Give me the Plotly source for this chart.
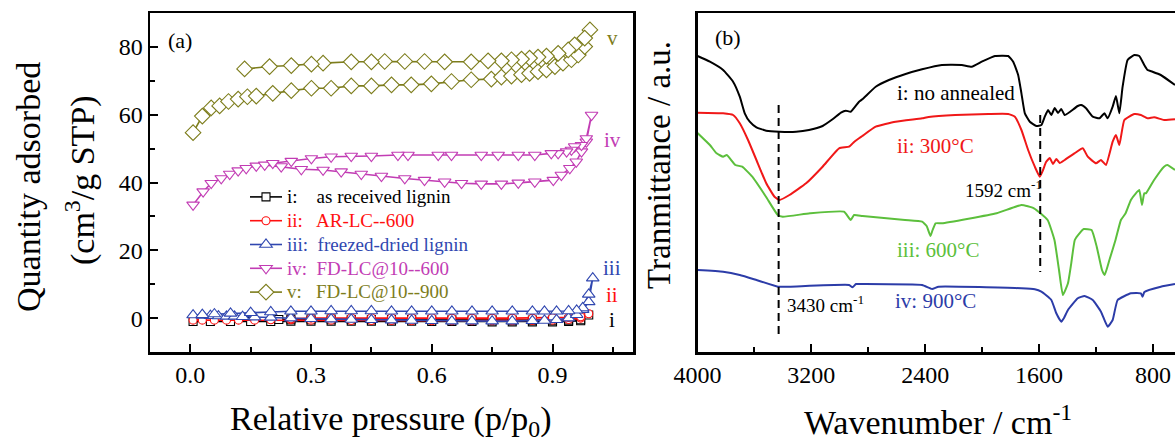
import plotly.graph_objects as go

W, H = 1175, 442
FONT = "Liberation Serif, Times New Roman, serif"

# ---------------- Panel (a): N2 isotherms ----------------
i_ads_x = [0.007, 0.05, 0.10, 0.15, 0.20, 0.25, 0.30, 0.35, 0.40, 0.45, 0.50, 0.55, 0.60, 0.65, 0.70, 0.75, 0.80, 0.85, 0.90, 0.94, 0.97, 0.99]
i_ads_y = [-1.0, -1.0, -1.0, -1.0, -1.0, -0.9, -0.9, -0.9, -0.9, -0.9, -0.9, -0.9, -1.0, -1.0, -1.0, -1.1, -1.1, -1.1, -1.1, -1.0, -0.8, 0.9]
i_des_x = [0.97, 0.94, 0.90, 0.85, 0.80, 0.75, 0.70, 0.65, 0.60, 0.55, 0.50, 0.45, 0.40, 0.35, 0.30, 0.25, 0.22]
i_des_y = [-0.5, -0.6, -0.6, -0.6, -0.6, -0.5, -0.5, -0.5, -0.5, -0.4, -0.4, -0.4, -0.4, -0.3, -0.3, -0.3, -0.4]

ii_ads_x = [0.007, 0.03, 0.06, 0.09, 0.12, 0.16, 0.20, 0.25, 0.30, 0.35, 0.40, 0.45, 0.50, 0.55, 0.60, 0.65, 0.70, 0.75, 0.80, 0.85, 0.90, 0.94, 0.97, 0.99]
ii_ads_y = [-0.6, -0.6, -0.6, -0.6, -0.6, -0.6, -0.5, -0.5, -0.6, -0.6, -0.7, -0.7, -0.7, -0.8, -0.8, -0.8, -0.8, -0.8, -0.8, -0.7, -0.6, -0.4, 0.0, 1.3]
ii_des_x = [0.97, 0.94, 0.90, 0.85, 0.80, 0.75, 0.70, 0.65, 0.60, 0.55, 0.50, 0.45, 0.40, 0.35, 0.30, 0.25]
ii_des_y = [0.4, 0.2, 0.1, 0.0, 0.0, 0.0, 0.0, 0.0, 0.1, 0.1, 0.1, 0.1, 0.1, 0.1, 0.0, -0.2]

iii_ads_x = [0.007, 0.03, 0.05, 0.07, 0.09, 0.11, 0.13, 0.16, 0.20, 0.25, 0.30, 0.35, 0.40, 0.45, 0.50, 0.55, 0.60, 0.65, 0.70, 0.75, 0.80, 0.85, 0.88, 0.91, 0.94, 0.96, 0.975, 0.99, 1.0]
iii_ads_y = [0.9, 0.8, 0.7, 0.6, 0.5, 0.5, 0.4, 0.3, 0.2, 0.0, -0.2, -0.3, -0.4, -0.5, -0.6, -0.7, -0.8, -0.9, -0.9, -0.9, -0.9, -0.8, -0.7, -0.5, 0.0, 1.0, 2.5, 4.8, 11.8]
iii_des_x = [0.99, 0.975, 0.96, 0.94, 0.91, 0.88, 0.85, 0.80, 0.75, 0.70, 0.65, 0.60, 0.55, 0.50, 0.45, 0.40, 0.35, 0.30, 0.25, 0.20, 0.15, 0.10, 0.06, 0.03]
iii_des_y = [7.0, 3.0, 2.3, 2.1, 2.0, 2.0, 2.0, 2.0, 2.0, 2.0, 2.0, 2.0, 2.0, 2.0, 2.1, 2.1, 2.1, 2.0, 2.0, 1.8, 1.6, 1.4, 1.2, 1.0]

iv_ads_x = [0.007, 0.032, 0.052, 0.077, 0.098, 0.119, 0.139, 0.164, 0.185, 0.226, 0.276, 0.330, 0.375, 0.425, 0.475, 0.533, 0.582, 0.632, 0.674, 0.723, 0.773, 0.815, 0.856, 0.902, 0.922, 0.943, 0.959, 0.972, 0.984, 0.997]
iv_ads_y = [33.4, 37.3, 39.8, 41.2, 42.5, 43.5, 44.2, 44.9, 45.2, 44.7, 43.9, 43.7, 43.2, 42.5, 41.9, 41.2, 40.7, 40.2, 39.8, 39.6, 39.6, 39.9, 40.2, 40.7, 42.2, 44.2, 46.1, 49.1, 52.0, 59.9]
iv_des_x = [0.984, 0.972, 0.955, 0.947, 0.935, 0.914, 0.897, 0.856, 0.815, 0.765, 0.723, 0.649, 0.616, 0.541, 0.516, 0.450, 0.400, 0.350, 0.301, 0.251, 0.205]
iv_des_y = [53.0, 51.0, 50.6, 49.6, 49.1, 48.6, 48.6, 48.1, 48.1, 48.1, 48.1, 48.1, 48.1, 48.1, 48.1, 47.8, 47.8, 47.6, 47.1, 46.3, 45.7]

v_ads_x = [0.007, 0.030, 0.052, 0.073, 0.095, 0.119, 0.142, 0.164, 0.205, 0.251, 0.301, 0.350, 0.400, 0.450, 0.500, 0.549, 0.599, 0.649, 0.698, 0.748, 0.773, 0.798, 0.823, 0.843, 0.864, 0.885, 0.906, 0.926, 0.947, 0.964, 0.980, 0.993]
v_ads_y = [54.7, 59.6, 62.0, 62.6, 63.9, 64.6, 65.3, 65.5, 66.3, 67.1, 67.8, 67.8, 68.5, 68.5, 68.8, 68.8, 69.1, 69.8, 70.3, 70.5, 71.1, 71.4, 71.8, 72.2, 72.7, 73.2, 74.2, 75.2, 76.2, 77.6, 80.1, 85.0]
v_des_x = [0.980, 0.955, 0.939, 0.914, 0.885, 0.864, 0.843, 0.823, 0.798, 0.773, 0.740, 0.698, 0.632, 0.582, 0.533, 0.483, 0.450, 0.400, 0.330, 0.301, 0.251, 0.197, 0.135]
v_des_y = [82.6, 80.6, 79.1, 78.1, 77.3, 77.0, 76.7, 76.4, 76.2, 75.9, 75.9, 75.6, 75.6, 75.7, 75.7, 75.7, 75.6, 75.6, 75.2, 74.9, 74.5, 74.2, 73.5]

a_names = ["i:    as received lignin", "ii:   AR-LC--600", "iii:  freezed-dried lignin",
           "iv:  FD-LC@10--600", "v:   FD-LC@10--900"]
a_tags = ["i", "ii", "iii", "iv", "v"]

# ---------------- Panel (b): FTIR spectra ----------------
wn_i = [4000, 3913, 3820, 3750, 3703, 3668, 3633, 3586, 3517, 3424, 3307, 3217, 3121, 3051, 2992, 2958, 2923, 2865, 2842, 2748, 2655, 2538, 2422, 2283, 2143, 2073, 2003, 1910, 1817, 1782, 1747, 1724, 1700, 1665, 1619, 1584, 1560, 1537, 1514, 1490, 1467, 1444, 1420, 1384, 1328, 1304, 1270, 1223, 1176, 1141, 1118, 1083, 1060, 1036, 1013, 978, 931, 896, 861, 838, 803, 745, 645]
t_i = [296, 290.3, 282, 270.3, 255.3, 238.7, 230.3, 224.7, 221.3, 220.3, 220.3, 222, 226, 232.7, 239.3, 241.3, 240.3, 250.3, 252.7, 265.3, 272, 278, 282.7, 287, 287, 285.3, 290.3, 296, 296, 290.3, 277, 258.7, 238.7, 230.3, 226, 227, 235.3, 242, 237, 244, 239, 243, 237, 240, 246, 247, 243.7, 235.3, 233.7, 238.7, 233.7, 245.3, 256, 238.7, 265.3, 292, 297, 296, 287, 282, 280.3, 277, 267]

wn_ii = [4000, 3820, 3750, 3703, 3645, 3586, 3517, 3459, 3424, 3354, 3237, 3121, 3005, 2935, 2900, 2865, 2842, 2748, 2608, 2422, 2376, 2189, 1956, 1817, 1770, 1724, 1677, 1630, 1595, 1572, 1551, 1525, 1502, 1479, 1455, 1420, 1351, 1293, 1258, 1200, 1165, 1130, 1083, 1060, 1036, 1001, 931, 885, 838, 792, 722, 645]
t_ii = [239.3, 238.7, 237, 228.7, 212, 192, 168.7, 155.3, 152, 157, 168.7, 185.3, 203.7, 205.3, 210, 213.7, 216, 225.3, 230.3, 233.7, 235, 237, 238, 238, 235.3, 222, 202, 185.3, 175.3, 182, 190, 194, 188, 193, 189, 192, 198.7, 203.7, 195.3, 188.7, 192, 187, 210.3, 217, 207, 232, 238, 237, 233.7, 234.7, 232, 232.7]

wn_iii = [4000, 3913, 3866, 3820, 3794, 3734, 3686, 3615, 3519, 3436, 3401, 3210, 2971, 2923, 2900, 2840, 2542, 2422, 2390, 2363, 2348, 2327, 2283, 1898, 1724, 1636, 1540, 1492, 1460, 1433, 1397, 1374, 1349, 1316, 1286, 1231, 1195, 1158, 1139, 1106, 1063, 1025, 992, 955, 920, 896, 877, 861, 849, 792, 722, 699, 645]
t_iii = [219, 207, 198.7, 195.3, 197, 187, 185.3, 175.3, 155.3, 137, 135.3, 138.7, 140.3, 132, 137, 136, 132, 130.3, 126, 116, 122, 128.7, 128.7, 138.7, 147, 143.7, 132, 112, 82, 57, 68.7, 88.7, 112, 118.7, 123, 122, 105.3, 82, 77, 92, 112, 132, 138.7, 152, 158.7, 162, 147, 158.7, 158.7, 172, 185.3, 187, 182]

wn_iv = [4000, 3820, 3703, 3586, 3435, 3354, 2935, 2911, 2886, 2842, 2422, 2352, 2306, 1724, 1630, 1584, 1514, 1479, 1444, 1425, 1397, 1328, 1281, 1223, 1165, 1118, 1083, 1048, 955, 885, 873, 860, 745, 645]
t_iv = [82, 80.3, 77, 72, 65.3, 65.3, 67, 64.7, 68, 68, 67, 63, 65.3, 63.7, 62.7, 60.3, 52, 38.7, 30.3, 34, 42, 53.7, 56, 52, 40.3, 25.3, 32, 52, 58.7, 58.7, 55.3, 60, 65.3, 68]

peak_wn = [3430, 1592]
peak_top = [247, 237]
peak_bottom = [17, 80]

# ---------------- styles ----------------
A_L, A_R, TOP, BOT = 150, 633, 13, 352
B_L = 697.5

def fx(p):
    return p / W

def fy(p):
    return 1 - p / H

a_colors = ["#000000", "#ff1010", "#3047b0", "#c23cb4", "#7d7d1c"]
a_symbols = ["square", "circle", "triangle-up", "triangle-down", "diamond"]
a_sizes = [8, 8, 11, 11, 12]
b_colors = ["#000000", "#f01818", "#5cbf3c", "#2c3ca8"]

fig = go.Figure()

a_data = [
    (i_ads_x + i_des_x, i_ads_y + i_des_y),
    (ii_ads_x + ii_des_x, ii_ads_y + ii_des_y),
    (iii_ads_x + iii_des_x, iii_ads_y + iii_des_y),
    (iv_ads_x + iv_des_x, iv_ads_y + iv_des_y),
    (v_ads_x + v_des_x, v_ads_y + v_des_y),
]
for k, (xs, ys) in enumerate(a_data):
    c = a_colors[k]
    fig.add_trace(go.Scatter(
        x=xs, y=ys, mode="lines+markers",
        name='<span style="color:%s;font-size:19px">%s</span>' % (c, a_names[k]),
        line=dict(color=c, width=1.6),
        marker=dict(symbol=a_symbols[k], size=a_sizes[k], color="white",
                    line=dict(color=c, width=1.1)),
        xaxis="x", yaxis="y", showlegend=True,
    ))

b_data = [(wn_i, t_i), (wn_ii, t_ii), (wn_iii, t_iii), (wn_iv, t_iv)]
for k, (xs, ys) in enumerate(b_data):
    fig.add_trace(go.Scatter(
        x=xs, y=ys, mode="lines", line=dict(color=b_colors[k], width=2, shape="spline", smoothing=0.4),
        xaxis="x2", yaxis="y2", showlegend=False, hoverinfo="skip",
    ))

dx, dy = [], []
for w, t, b in zip(peak_wn, peak_top, peak_bottom):
    dx += [w, w, None]
    dy += [t, b, None]
fig.add_trace(go.Scatter(
    x=dx, y=dy, mode="lines", line=dict(color="black", width=2, dash="8px,5px"),
    xaxis="x2", yaxis="y2", showlegend=False, hoverinfo="skip",
))

axis_common = dict(
    showline=True, linecolor="black", linewidth=2.5, showgrid=False, zeroline=False,
    ticks="inside", ticklen=8, tickwidth=2, tickcolor="black",
    tickfont=dict(family=FONT, size=24, color="black"), automargin=False,
)

fig.update_layout(
    width=W, height=H, margin=dict(l=0, r=0, t=0, b=0),
    paper_bgcolor="white", plot_bgcolor="white",
    font=dict(family=FONT, color="black"),
    hovermode=False,
    xaxis=dict(domain=[fx(A_L), fx(A_R)], range=[-0.1, 1.1], tick0=0, dtick=0.3, tickformat=".1f",
               mirror=True, anchor="y",
               minor=dict(ticks="inside", ticklen=5, tickwidth=2, dtick=0.15, tickcolor="black"),
               **axis_common),
    yaxis=dict(domain=[fy(BOT), fy(TOP)], range=[-10, 90], tick0=0, dtick=20,
               mirror=True, anchor="x",
               minor=dict(ticks="inside", ticklen=5, tickwidth=2, dtick=10, tickcolor="black"),
               **axis_common),
    xaxis2=dict(domain=[fx(B_L), 1.0], range=[4000, 645], tick0=0, dtick=800,
                mirror=True, anchor="y2",
                minor=dict(ticks="inside", ticklen=5, tickwidth=2, dtick=400, tickcolor="black"),
                **axis_common),
    yaxis2=dict(domain=[fy(BOT), fy(TOP)], range=[0, 339], anchor="x2",
                showticklabels=False, showline=True, linecolor="black", linewidth=2.5,
                showgrid=False, zeroline=False, ticks=""),
    legend=dict(x=fx(245), y=fy(180), xanchor="left", yanchor="top",
                bgcolor="rgba(0,0,0,0)", borderwidth=0, maxheight=200,
                font=dict(family=FONT, size=16, color="black"), itemwidth=32),
    showlegend=True,
)

def note(text, x, y, size, color="black", xanchor="center", angle=0):
    fig.add_annotation(text=text, x=fx(x), y=fy(y), xref="paper", yref="paper",
                       showarrow=False, xanchor=xanchor, yanchor="middle", textangle=angle,
                       font=dict(family=FONT, size=size, color=color))

# axis titles
note("Quantity adsorbed", 28, 187, 34, angle=-90)
note("(cm<sup>3</sup>/g STP)", 80, 180, 34, angle=-90)
note("Relative pressure (p/p<sub>0</sub>)", 391, 421, 34)
note("Tranmittance / a.u.", 659, 165, 33, angle=-90)
note("Wavenumber / cm<sup>-1</sup>", 938, 420, 34)

# panel labels
note("(a)", 180, 40, 22)
note("(b)", 728, 37, 22)

# series tags in (a)
for tag, c, yy in zip(a_tags, a_colors, [320, 295, 268, 140, 38]):
    note(tag, 612, yy, 21, color=c)

# labels in (b)
note("i: no annealed", 895, 93, 21, xanchor="left")
note("ii: 300°C", 895, 146, 21, color=b_colors[1], xanchor="left")
note("iii: 600°C", 895, 250, 21, color=b_colors[2], xanchor="left")
note("iv: 900°C", 893, 301, 21, color=b_colors[3], xanchor="left")
note("1592 cm<sup>-1</sup>", 963, 189, 19, xanchor="left")
note("3430 cm<sup>-1</sup>", 785, 304, 19, xanchor="left")

fig.write_html(
    "out.html",
    config={"displayModeBar": False, "staticPlot": True},
    post_script="document.body.style.margin='0px';document.documentElement.style.overflow='hidden';",
)
